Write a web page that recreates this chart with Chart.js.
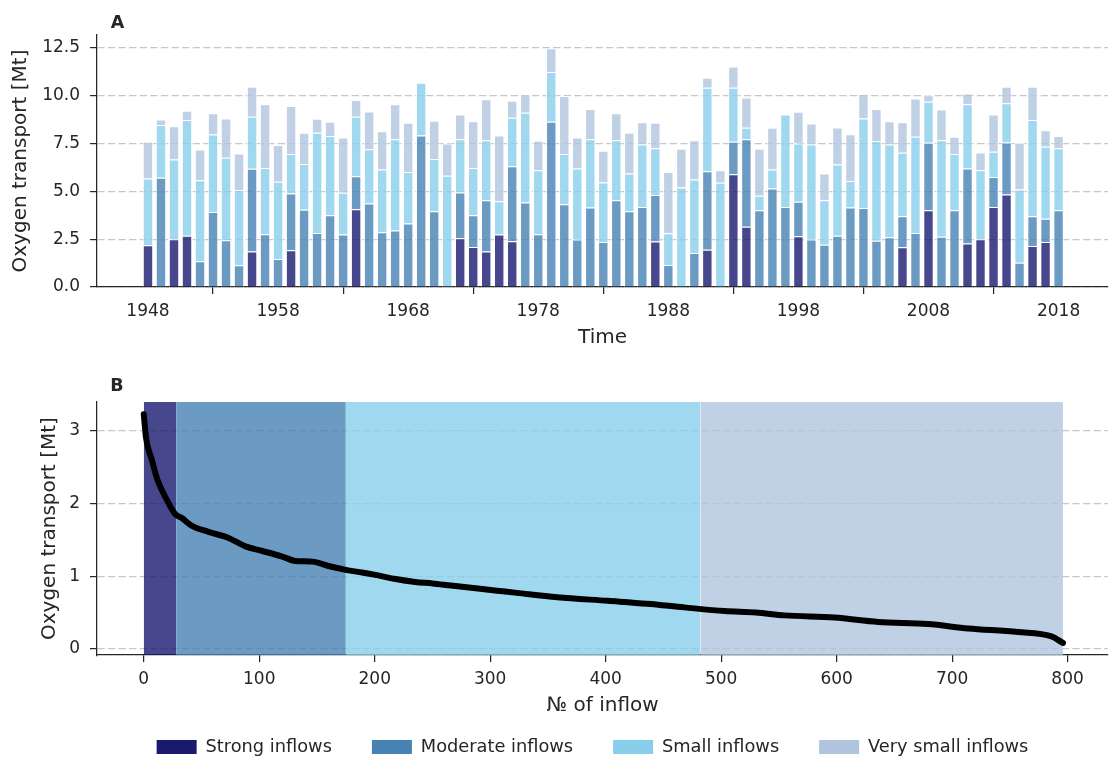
<!DOCTYPE html>
<html>
<head>
<meta charset="utf-8">
<title>Oxygen transport</title>
<script src="https://cdn.jsdelivr.net/npm/chart.js@4.4.0/dist/chart.umd.min.js"></script>
<style>
  html, body { margin: 0; padding: 0; background: #fff; overflow: hidden; width: 1109px; height: 757px; }
  canvas { position: absolute; left: 0; }
  #top { top: 0; }
  #bottom { top: 370px; }
</style>
</head>
<body>
<canvas id="top" width="1109" height="360"></canvas>
<canvas id="bottom" width="1109" height="396"></canvas>
<script>
// Panel A: yearly oxygen transport split by inflow class [Mt]
const years = [1948, 1949, 1950, 1951, 1952, 1953, 1954, 1955, 1956, 1957,
               1958, 1959, 1960, 1961, 1962, 1963, 1964, 1965, 1966, 1967,
               1968, 1969, 1970, 1971, 1972, 1973, 1974, 1975, 1976, 1977,
               1978, 1979, 1980, 1981, 1982, 1983, 1984, 1985, 1986, 1987,
               1988, 1989, 1990, 1991, 1992, 1993, 1994, 1995, 1996, 1997,
               1998, 1999, 2000, 2001, 2002, 2003, 2004, 2005, 2006, 2007,
               2008, 2009, 2010, 2011, 2012, 2013, 2014, 2015, 2016, 2017, 2018];
const strong = [2.18, 0, 2.49, 2.67, 0, 0, 0, 0, 1.85, 0,
                0, 1.92, 0, 0, 0, 0, 4.06, 0, 0, 0,
                0, 0, 0, 0, 2.55, 2.09, 1.85, 2.74, 2.39, 0,
                0, 0, 0, 0, 0, 0, 0, 0, 0, 2.37,
                0, 0, 0, 1.94, 0, 5.89, 3.14, 0, 0, 0,
                2.65, 0, 0, 0, 0, 0, 0, 0, 2.07, 0,
                4.01, 0, 0, 2.27, 2.49, 4.18, 4.83, 0, 2.14, 2.35, 0];
const moderate = [0, 5.70, 0, 0, 1.34, 3.92, 2.44, 1.13, 4.32, 2.75,
                  1.46, 2.96, 4.04, 2.82, 3.75, 2.74, 1.73, 4.36, 2.86, 2.95,
                  3.31, 7.91, 3.96, 0, 2.38, 1.66, 2.68, 0, 3.92, 4.41,
                  2.75, 8.63, 4.32, 2.48, 4.15, 2.35, 4.53, 3.96, 4.18, 2.44,
                  1.15, 0, 1.78, 4.11, 0, 1.69, 4.57, 4.01, 5.14, 4.18,
                  1.80, 2.48, 2.21, 2.67, 4.15, 4.13, 2.41, 2.60, 1.63, 2.82,
                  3.52, 2.62, 4.01, 3.92, 0, 1.57, 2.72, 1.26, 1.56, 1.22, 4.01];
const small = [3.49, 2.76, 4.17, 6.05, 4.24, 4.05, 4.31, 3.93, 2.72, 3.47,
               4.03, 2.06, 2.38, 5.23, 4.13, 2.18, 3.10, 2.84, 3.28, 4.76,
               2.69, 2.76, 2.72, 5.81, 2.78, 2.47, 3.14, 1.74, 2.53, 4.69,
               3.35, 2.60, 2.62, 3.71, 3.56, 3.11, 3.14, 1.97, 3.26, 2.43,
               1.66, 5.20, 3.83, 4.36, 5.44, 2.83, 0.61, 0.75, 1.00, 4.83,
               3.05, 4.96, 2.32, 3.73, 1.39, 4.67, 5.21, 4.84, 3.31, 5.03,
               2.15, 5.05, 2.93, 3.35, 3.61, 1.31, 2.04, 3.83, 5.02, 3.75, 3.23];
const verySmall = [1.91, 0.29, 1.74, 0.49, 1.60, 1.10, 2.05, 1.91, 1.57, 3.32,
                   1.92, 2.51, 1.63, 0.74, 0.75, 2.89, 0.87, 1.97, 2.00, 1.84,
                   2.58, 0, 2.00, 1.69, 1.30, 2.44, 2.13, 3.43, 0.89, 0.96,
                   1.54, 1.24, 3.03, 1.62, 1.58, 1.65, 1.40, 2.12, 1.17, 1.34,
                   3.20, 2.02, 2.06, 0.52, 0.66, 1.10, 1.58, 2.46, 2.18, 0,
                   1.65, 1.10, 1.40, 1.93, 2.44, 1.28, 1.67, 1.22, 1.60, 2.00,
                   0.34, 1.60, 0.91, 0.57, 0.93, 1.95, 0.87, 2.44, 1.74, 0.87, 0.64];
const yearTicks = [1948, 1958, 1968, 1978, 1988, 1998, 2008, 2018];
const transportTicks = [0, 2.5, 5, 7.5, 10, 12.5];

// Panel B: single inflows sorted by transport
const inflowRank = [0, 2, 7, 12, 20, 27, 33, 41, 56, 73, 88, 102, 120, 131, 146, 160,
                    177, 189, 203, 218, 235, 250, 266, 306, 323, 358, 402, 436, 468,
                    503, 530, 555, 598, 636, 679, 714, 757, 786, 796];
const inflowTransport = [3.23, 2.90, 2.60, 2.32, 2.05, 1.86, 1.80, 1.70, 1.61, 1.53, 1.41, 1.35, 1.27, 1.21, 1.20, 1.14,
                         1.08, 1.05, 1.01, 0.96, 0.92, 0.90, 0.87, 0.80, 0.77, 0.71, 0.66, 0.62, 0.57,
                         0.52, 0.50, 0.46, 0.43, 0.37, 0.34, 0.28, 0.23, 0.17, 0.08];
const classNames = ['Strong inflows', 'Moderate inflows', 'Small inflows', 'Very small inflows'];
const classStart = [0, 28, 175, 482];
const classEnd = [28, 175, 482, 796];
const rankTicks = [0, 100, 200, 300, 400, 500, 600, 700, 800];
const singleTicks = [0, 1, 2, 3];

const solid = ['#191970', '#4682b4', '#87ceeb', '#b0c4de'];
const faded = ['rgba(25,25,112,0.8)', 'rgba(70,130,180,0.8)', 'rgba(135,206,235,0.8)', 'rgba(176,196,222,0.8)'];

const INK = '#262626';
Chart.defaults.font.family = '"DejaVu Sans"';
Chart.defaults.color = INK;
Chart.defaults.animation = false;

// bold panel letter above the plot, placed from the chart area corner
const panelLabel = {
  id: 'panelLabel',
  afterDraw(chart, args, opts) {
    const {ctx, chartArea} = chart;
    ctx.save();
    ctx.font = 'bold 17.5px "DejaVu Sans"';
    ctx.fillStyle = INK;
    ctx.textAlign = 'center';
    ctx.textBaseline = 'alphabetic';
    ctx.fillText(opts.text, chartArea.left + opts.dx, chartArea.top + opts.dy);
    ctx.restore();
  }
};

// the legend sits centred under the whole figure, not under the canvas
const legendShift = {
  id: 'legendShift',
  afterLayout(chart, args, opts) {
    if (chart.legend) {
      chart.legend.left += opts.dx;
      chart.legend.right += opts.dx;
    }
  }
};

function fixedTicks(list) {
  return scale => { scale.ticks = list.map(v => ({value: v})); };
}

function axisStyle(dashed) {
  return {
    border: {color: INK, width: 1.25, dash: [7.4, 3.2]},
    grid: {
      display: true,
      drawOnChartArea: dashed,
      color: '#c8c8c8',
      lineWidth: 1.2,
      tickColor: INK,
      tickWidth: 1.25,
      tickLength: 7
    }
  };
}

function stack(i, values) {
  return {
    label: classNames[i],
    data: years.map((y, k) => ({x: y, y: values[k]})),
    backgroundColor: faded[i],
    borderColor: '#ffffff',
    borderWidth: 1,
    barPercentage: 0.8,
    categoryPercentage: 1
  };
}

new Chart(document.getElementById('top'), {
  type: 'bar',
  data: {
    datasets: [stack(0, strong), stack(1, moderate), stack(2, small), stack(3, verySmall)]
  },
  options: {
    responsive: false,
    layout: {padding: {top: 35, right: 1, left: 0, bottom: 0}},
    plugins: {
      legend: {display: false},
      tooltip: {enabled: false},
      panelLabel: {text: 'A', dx: 20.5, dy: -6.7}
    },
    scales: {
      x: Object.assign(axisStyle(false), {
        type: 'linear',
        stacked: true,
        offset: false,
        min: 1944.08,
        max: 2021.8,
        afterBuildTicks: fixedTicks(yearTicks),
        afterFit: s => { s.height = 73; },
        ticks: {font: {size: 17}, padding: 7, maxRotation: 0, callback: v => String(v)},
        title: {display: true, text: 'Time', font: {size: 20}, padding: {top: 0, bottom: 10}}
      }),
      y: Object.assign(axisStyle(true), {
        stacked: true,
        min: 0,
        max: 13.16,
        afterBuildTicks: fixedTicks(transportTicks),
        afterFit: s => { s.width = 97; },
        ticks: {font: {size: 17}, padding: 10, callback: v => v.toFixed(1)},
        title: {display: true, text: 'Oxygen transport [Mt]', font: {size: 20}, padding: {top: 9, bottom: 0}}
      })
    }
  },
  plugins: [panelLabel]
});

const yTop = 3.398;
const spans = classNames.map((name, i) => ({
  label: name,
  data: [{x: classStart[i], y: yTop}, {x: classEnd[i], y: yTop}],
  backgroundColor: faded[i],
  borderColor: 'transparent',
  borderWidth: 1,
  pointRadius: 0,
  fill: 'start',
  order: 2
}));

new Chart(document.getElementById('bottom'), {
  type: 'line',
  data: {
    datasets: spans.concat([{
      label: 'inflows',
      data: inflowRank.map((r, k) => ({x: r, y: inflowTransport[k]})),
      borderColor: '#000000',
      borderWidth: 6,
      borderCapStyle: 'round',
      borderJoinStyle: 'round',
      cubicInterpolationMode: 'monotone',
      pointRadius: 0,
      fill: false,
      order: 0
    }])
  },
  options: {
    responsive: false,
    layout: {padding: {top: 32, right: 1, left: 0, bottom: 0}},
    plugins: {
      tooltip: {enabled: false},
      panelLabel: {text: 'B', dx: 20, dy: -11.3},
      legendShift: {dx: 38.5},
      legend: {
        position: 'bottom',
        labels: {
          font: {size: 17.8},
          boxWidth: 40,
          boxHeight: 14,
          padding: 40,
          color: INK,
          generateLabels: chart => Chart.defaults.plugins.legend.labels.generateLabels(chart)
            .filter(l => l.datasetIndex < 4)
            .sort((a, b) => a.datasetIndex - b.datasetIndex)
            .map(l => Object.assign(l, {fillStyle: solid[l.datasetIndex], strokeStyle: solid[l.datasetIndex], lineWidth: 0}))
        }
      }
    },
    scales: {
      x: Object.assign(axisStyle(false), {
        type: 'linear',
        min: -40.5,
        max: 835,
        afterBuildTicks: fixedTicks(rankTicks),
        afterFit: s => { s.height = 43.1; },
        ticks: {font: {size: 17}, padding: 7, maxRotation: 0, callback: v => String(v)},
        title: {display: true, text: '№ of inflow', font: {size: 20}, padding: {top: 0, bottom: -19.9}}
      }),
      y: Object.assign(axisStyle(true), {
        min: -0.087,
        max: yTop,
        afterBuildTicks: fixedTicks(singleTicks),
        afterFit: s => { s.width = 97; },
        ticks: {font: {size: 17}, padding: 10, callback: v => String(v)},
        title: {display: true, text: 'Oxygen transport [Mt]', font: {size: 20}, padding: {top: 38, bottom: 0}}
      })
    }
  },
  plugins: [panelLabel, legendShift]
});
</script>
</body>
</html>
